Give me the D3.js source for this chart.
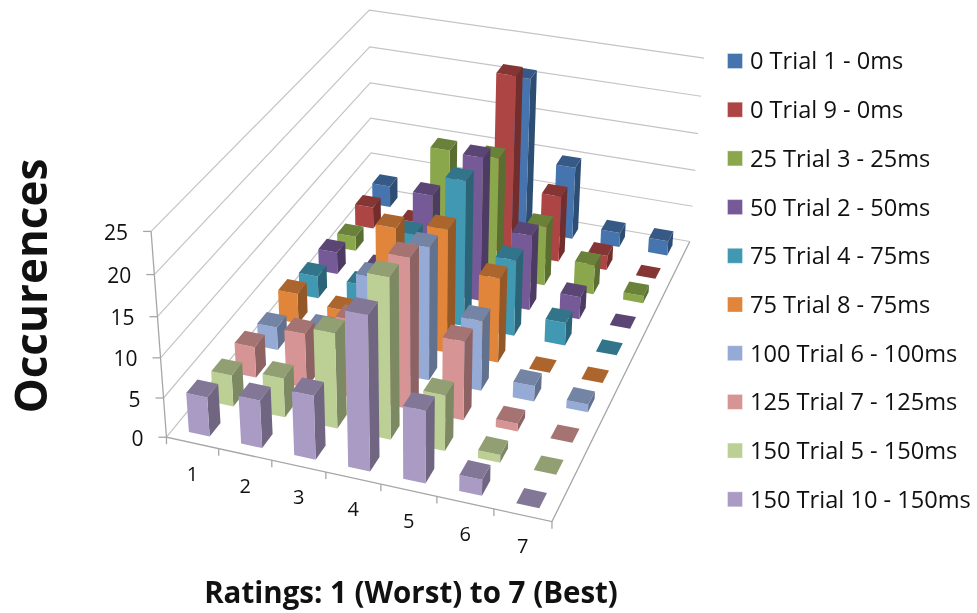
<!DOCTYPE html>
<html><head><meta charset="utf-8">
<script src="https://cdn.jsdelivr.net/npm/d3@7"></script>
<style>html,body{margin:0;background:#fff}svg{display:block;filter:blur(.4px)}text{font-family:"Open Sans",sans-serif;fill:#111}</style>
</head><body><div id="c"></div>
<script>
const ratings=["1","2","3","4","5","6","7"];
const yTicks=[0,5,10,15,20,25];
const seriesNames=["0 Trial 1 - 0ms","0 Trial 9 - 0ms","25 Trial 3 - 25ms","50 Trial 2 - 50ms","75 Trial 4 - 75ms","75 Trial 8 - 75ms","100 Trial 6 - 100ms","125 Trial 7 - 125ms","150 Trial 5 - 150ms","150 Trial 10 - 150ms"];
const seriesColors=["#4674ae","#ad4544","#8aa74b","#755a97","#4198b3","#e0853a","#95abd6","#d69594","#bccf95","#a99bc3"];
const trial1=[3,1,2,21,10,2,2];
const trial9=[3,2,3,24,9,2,0];
const trial3=[2,1,16,16,8,4,1];
const trial2=[3,2,13,19,10,3,0];
const trial4=[3,3,11,19,10,3,0];
const trial8=[4,3,15,16,11,0,0];
const trial6=[3,4,12,17,9,2,1];
const trial7=[4,7,10,19,10,1,0];
const trial5=[4,5,12,20,7,1,0];
const trial10=[5,6,8,19,9,2,0];
const seriesValues=[trial1,trial9,trial3,trial2,trial4,trial8,trial6,trial7,trial5,trial10];

// camera calibration: [u,v,h] -> screen
const anchors=[[0,0,0,166,437],[1,0,0,552,522],[0,1,0,372,188],[1,1,0,690,241],[0,0,1,151,232],[0,1,1,369,10],[1,1,1,705,59],[0,0,.6,158,316],[0,1,.6,370,82],[1,1,.6,697,133]];
function solve(A,b){const n=b.length,M=A.map((r,i)=>[...r,b[i]]);
 for(let i=0;i<n;i++){let p=i;for(let k=i+1;k<n;k++)if(Math.abs(M[k][i])>Math.abs(M[p][i]))p=k;[M[i],M[p]]=[M[p],M[i]];
  for(let k=0;k<n;k++)if(k!==i){const f=M[k][i]/M[i][i];for(let j=i;j<=n;j++)M[k][j]-=f*M[i][j];}}
 return M.map((r,i)=>r[n]/r[i]);}
const rows=[],rhs=[];
anchors.forEach(([u,v,h,x,y])=>{rows.push([u,v,h,1,0,0,0,0,-x*u,-x*v,-x*h]);rhs.push(x);rows.push([0,0,0,0,u,v,h,1,-y*u,-y*v,-y*h]);rhs.push(y);});
const AT=d3.range(11).map(i=>d3.range(11).map(j=>d3.sum(rows,r=>r[i]*r[j])));
const ATb=d3.range(11).map(i=>d3.sum(rows,(r,k)=>r[i]*rhs[k]));
const C=solve(AT,ATb);
const project=(u,v,h)=>{const w=C[8]*u+C[9]*v+C[10]*h+1;return [(C[0]*u+C[1]*v+C[2]*h+C[3])/w,(C[4]*u+C[5]*v+C[6]*h+C[7])/w];};

const uPoint=d3.scalePoint().domain(ratings).range([0,1]).padding(.5);
const uBand=d3.scaleBand().domain(ratings).range([0,1]).paddingInner(.6).paddingOuter(.3);
const frontToBack=seriesNames.slice().reverse();
const vBand=d3.scaleBand().domain(frontToBack).range([0,1]).paddingInner(.55).paddingOuter(.275);
const hScale=d3.scaleLinear().domain([0,25]).range([0,1]);

const svg=d3.select("#c").append("svg").attr("width",977).attr("height",613);
const line=d3.line();
const grid=svg.append("g").attr("fill","none").attr("stroke","#c4c4c4").attr("stroke-width",1.2);
yTicks.forEach(t=>{const h=hScale(t);
 grid.append("path").attr("d",line([project(0,0,h),project(0,1,h),project(1,1,h)]));});
const axisG=svg.append("g").attr("fill","none").attr("stroke","#a6a6a6").attr("stroke-width",1.3);
axisG.append("path").attr("d",line([project(0,0,1),project(0,0,0),project(1,0,0),project(1,1,0)]));
yTicks.forEach(t=>{const [x,y]=project(0,0,hScale(t));
 axisG.append("path").attr("d",line([[x-8,y],[x,y]]));
 svg.append("text").attr("x",x-23).attr("y",y+1).attr("text-anchor","end").attr("dy",".36em").attr("font-size",21).text(t);});
d3.range(0,8).forEach(i=>{const [x,y]=project(i/7,0,0);
 axisG.append("path").attr("d",line([[x,y],[x,y+7]]));});
ratings.forEach(r=>{const [x,y]=project(uPoint(r),0,0);
 svg.append("text").attr("x",x).attr("y",y+31).attr("text-anchor","middle").attr("dy",".36em").attr("font-size",20).text(r);});

const bars=[];
frontToBack.slice().reverse().forEach(name=>{const i=seriesNames.indexOf(name);
 ratings.forEach((r,j)=>bars.push({name,r,value:seriesValues[i][j],color:seriesColors[i]}));});
const poly=pts=>"M"+pts.map(p=>p.map(n=>n.toFixed(1)).join(",")).join("L")+"Z";
const gb=svg.append("g");
bars.forEach(b=>{const u0=uBand(b.r),u1=u0+uBand.bandwidth(),v0=vBand(b.name),v1=v0+vBand.bandwidth(),h=hScale(b.value);
 const g=gb.append("g"),c=d3.color(b.color),shade=k=>d3.rgb(c.r*k,c.g*k,c.b*k);
 if(b.value>0){
  g.append("path").attr("d",poly([project(u1,v0,0),project(u1,v1,0),project(u1,v1,h),project(u1,v0,h)])).attr("fill",shade(.66));
  g.append("path").attr("d",poly([project(u0,v0,0),project(u1,v0,0),project(u1,v0,h),project(u0,v0,h)])).attr("fill",b.color);
 }
 g.append("path").attr("d",poly([project(u0,v0,h),project(u1,v0,h),project(u1,v1,h),project(u0,v1,h)])).attr("fill",shade(.77));
});

const leg=svg.append("g");
seriesNames.forEach((n,i)=>{const y=61+i*48.7;
 leg.append("rect").attr("x",727.5).attr("y",y-7.5).attr("width",15).attr("height",15).attr("fill",seriesColors[i]).attr("stroke","#fff").attr("stroke-opacity",.35);
 leg.append("text").attr("x",750).attr("y",y).attr("dy",".36em").attr("font-size",23.6).text(n);});
svg.append("text").attr("transform","translate(31,286) rotate(-90)").attr("text-anchor","middle").attr("dy",".36em").attr("font-size",44).attr("font-weight",700).text("Occurences");
svg.append("text").attr("x",411).attr("y",592).attr("text-anchor","middle").attr("dy",".36em").attr("font-size",29.5).attr("font-weight",700).text("Ratings: 1 (Worst) to 7 (Best)");
</script></body></html>
